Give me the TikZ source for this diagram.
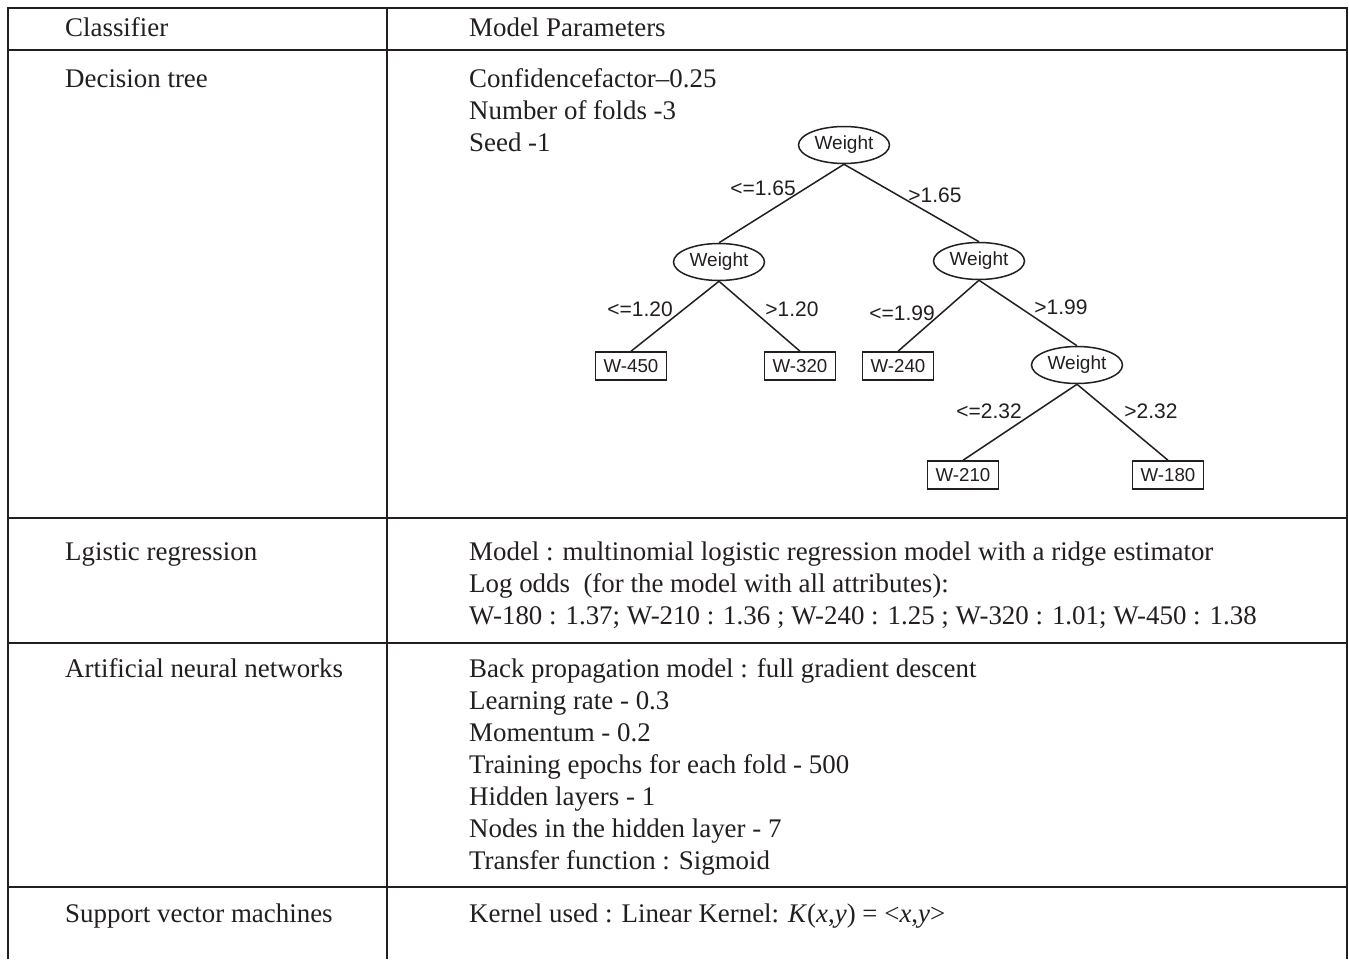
\documentclass[tikz,border=0pt]{standalone}
\usepackage{fontspec}
\setmainfont{Liberation Serif}
\newfontfamily\treefont{Liberation Sans}
\usetikzlibrary{shapes.geometric}
\definecolor{ink}{HTML}{231F20}
\begin{document}
\begin{tikzpicture}[x=1pt,y=-1pt,
  txt/.style={anchor=base west,inner sep=0pt,text=ink,font=\fontsize{26.9}{32}\selectfont},
  rule/.style={draw=ink,line width=2.4pt},
  tnode/.style={ellipse,draw=ink,line width=1.5pt,minimum width=91pt,minimum height=37pt,inner sep=0pt,text=ink,font=\treefont\fontsize{19}{21}\selectfont},
  leaf/.style={rectangle,draw=ink,line width=1.5pt,minimum width=71pt,minimum height=28pt,inner sep=0pt,text=ink,font=\treefont\fontsize{18.7}{20}\selectfont},
  edge/.style={draw=ink,line width=1.5pt},
  elab/.style={inner sep=0pt,text=ink,font=\treefont\fontsize{21}{23}\selectfont}]
\useasboundingbox (0,0) rectangle (1349,959);
\fill[white] (0,0) rectangle (1349,959);
% table rules
\draw[rule] (8,959) -- (8,8) -- (1347,8) -- (1347,959);
\draw[rule] (387,8) -- (387,959);
\foreach \yy in {50,518,643,887} \draw[rule] (8,\yy) -- (1347,\yy);
% header
\node[txt] (h1) at (65,36) {Classifier};
\node[txt] (h2) at (469,36) {Model Parameters};
% decision tree row
\node[txt] (c1) at (65,87) {Decision tree};
\node[txt] (p1a) at (469,87) {Confidencefactor--0.25};
\node[txt] (p1b) at (469,119) {Number of folds -3};
\node[txt] (p1c) at (469,151) {Seed -1};
% tree
\node[tnode] (r) at (844,145) {Weight};
\node[tnode] (l) at (719,262) {Weight};
\node[tnode] (rr) at (979,261) {Weight};
\node[tnode] (rb) at (1077,365) {Weight};
\node[leaf] (w450) at (631,366) {W-450};
\node[leaf] (w320) at (800,366) {W-320};
\node[leaf] (w240) at (898,366) {W-240};
\node[leaf] (w210) at (963,475) {W-210};
\node[leaf] (w180) at (1168,475) {W-180};
\draw[edge] (r.south) -- (l.north);
\draw[edge] (r.south) -- (rr.north);
\draw[edge] (l.south) -- (w450.north);
\draw[edge] (l.south) -- (w320.north);
\draw[edge] (rr.south) -- (w240.north);
\draw[edge] (rr.south) -- (rb.north);
\draw[edge] (rb.south) -- (w210.north);
\draw[edge] (rb.south) -- (w180.north);
\node[elab] (e1) at (763,188) {<=1.65};
\node[elab] (e2) at (935,195) {>1.65};
\node[elab] (e3) at (640,309) {<=1.20};
\node[elab] (e4) at (792,309) {>1.20};
\node[elab] (e5) at (902,313) {<=1.99};
\node[elab] (e6) at (1061,307) {>1.99};
\node[elab] (e7) at (989,411) {<=2.32};
\node[elab] (e8) at (1151,411) {>2.32};
% logistic regression row
\node[txt] (c2) at (65,560) {Lgistic regression};
\node[txt] (p2a) at (469,560) {Model : multinomial logistic regression model with a ridge estimator};
\node[txt] (p2b) at (469,592) {Log odds\ \ (for the model with all attributes):};
\node[txt] (p2c) at (469,624) {W-180 : 1.37; W-210 : 1.36 ; W-240 : 1.25 ; W-320 : 1.01; W-450 : 1.38};
% ANN row
\node[txt] (c3) at (65,677) {Artificial neural networks};
\foreach \t [count=\i] in {Back propagation model : full gradient descent,
  Learning rate - 0.3, Momentum - 0.2, Training epochs for each fold - 500,
  Hidden layers - 1, Nodes in the hidden layer - 7, Transfer function : Sigmoid}
  \node[txt] (ann\i) at (469,645+32*\i) {\t};
% SVM row
\node[txt] (c4) at (65,922) {Support vector machines};
\node[txt] (p4) at (469,922) {Kernel used : Linear Kernel: \textit{K}(\textit{x},\textit{y}) = <\textit{x},\textit{y}>};
\end{tikzpicture}
\end{document}
